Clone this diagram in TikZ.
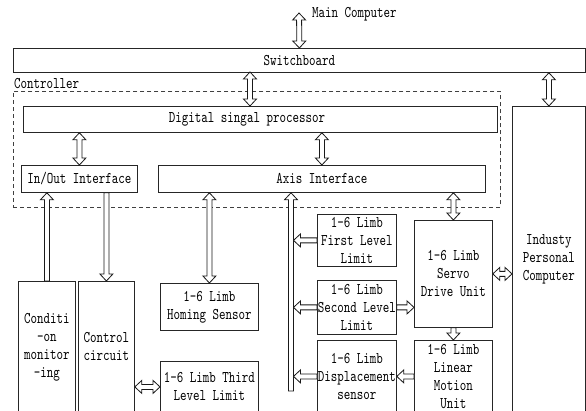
\documentclass[tikz,border=0pt]{standalone}
\usepackage{fontspec}
\newfontfamily\dfont{lmmono10-regular.otf}[FakeStretch=0.76]
\usetikzlibrary{calc}
\tikzset{
  every node/.style={font=\dfont\fontsize{16.3}{18}\selectfont},
  box/.style={draw=black!85, line width=0.8pt, inner sep=0pt, align=center, anchor=north west},
  dashedbox/.style={draw=black!75, line width=0.8pt, dash pattern=on 4pt off 3pt, inner sep=0pt, anchor=north west},
  lbl/.style={inner sep=0pt},
  blk/.style={draw=black!90, line width=0.8pt, fill=white},
  dblarrow/.style={blk, to path={let \p1=(\tikztostart), \p2=(\tikztotarget),
      \n1={veclen(\x2-\x1,\y2-\y1)}, \n2={(\x2-\x1)/\n1}, \n3={(\y2-\y1)/\n1} in
      ({\x1+7*\n2-2.5*\n3},{\y1+7*\n3+2.5*\n2})
      -- ({\x1+(\n1-7)*\n2-2.5*\n3},{\y1+(\n1-7)*\n3+2.5*\n2})
      -- ({\x1+(\n1-7)*\n2-6.5*\n3},{\y1+(\n1-7)*\n3+6.5*\n2})
      -- (\x2,\y2)
      -- ({\x1+(\n1-7)*\n2+6.5*\n3},{\y1+(\n1-7)*\n3-6.5*\n2})
      -- ({\x1+(\n1-7)*\n2+2.5*\n3},{\y1+(\n1-7)*\n3-2.5*\n2})
      -- ({\x1+7*\n2+2.5*\n3},{\y1+7*\n3-2.5*\n2})
      -- ({\x1+7*\n2+6.5*\n3},{\y1+7*\n3-6.5*\n2})
      -- (\x1,\y1)
      -- ({\x1+7*\n2-6.5*\n3},{\y1+7*\n3+6.5*\n2})
      -- cycle}},
  sglarrow/.style={blk, to path={let \p1=(\tikztostart), \p2=(\tikztotarget),
      \n1={veclen(\x2-\x1,\y2-\y1)}, \n2={(\x2-\x1)/\n1}, \n3={(\y2-\y1)/\n1} in
      ({\x1-2.5*\n3},{\y1+2.5*\n2})
      -- ({\x1+(\n1-7)*\n2-2.5*\n3},{\y1+(\n1-7)*\n3+2.5*\n2})
      -- ({\x1+(\n1-7)*\n2-6.5*\n3},{\y1+(\n1-7)*\n3+6.5*\n2})
      -- (\x2,\y2)
      -- ({\x1+(\n1-7)*\n2+6.5*\n3},{\y1+(\n1-7)*\n3-6.5*\n2})
      -- ({\x1+(\n1-7)*\n2+2.5*\n3},{\y1+(\n1-7)*\n3-2.5*\n2})
      -- ({\x1+2.5*\n3},{\y1-2.5*\n2})
      -- cycle}},
}
\begin{document}
\begin{tikzpicture}[x=1pt,y=-1pt]
\useasboundingbox (0,0) rectangle (586,411);
\clip (0,0) rectangle (586,411);
% boxes
\node[box, minimum width=572pt, minimum height=24pt] (sw) at (13,48) {Switchboard};
\node[dashedbox, minimum width=487pt, minimum height=116pt] (ctl) at (13,91) {};
\node[lbl, anchor=west] (ctll) at (14,84) {Controller};
\node[box, minimum width=474pt, minimum height=26pt] (dsp) at (23,106) {};
\node[lbl] (dspl) at (247,119) {Digital singal processor};
\node[box, minimum width=116pt, minimum height=27pt] (io) at (21,165) {In/Out Interface};
\node[box, minimum width=327pt, minimum height=27pt] (axis) at (158,165) {Axis Interface};
\node[box, minimum width=73pt, minimum height=306pt] (ipc) at (512,106) {Industy\\Personal\\Computer};
\node[box, minimum width=57pt, minimum height=131pt] (cond) at (18,281) {Conditi\\-on\\monitor\\-ing};
\node[box, minimum width=56pt, minimum height=131pt] (ctrlc) at (78,281) {Control\\circuit};
\node[box, minimum width=98pt, minimum height=47pt] (hom) at (160,283) {1-6 Limb\\Homing Sensor};
\node[box, minimum width=98pt, minimum height=51pt] (third) at (160,361) {1-6 Limb Third\\Level Limit};
\node[box, minimum width=79pt, minimum height=52pt] (f1) at (317,214) {1-6 Limb\\First Level\\Limit};
\node[box, minimum width=79pt, minimum height=54pt] (f2) at (317,280) {1-6 Limb\\Second Level\\Limit};
\node[box, minimum width=79pt, minimum height=72pt] (disp) at (317,340) {1-6 Limb\\Displacement\\sensor};
\node[box, minimum width=78pt, minimum height=107pt] (servo) at (414,220) {1-6 Limb\\Servo\\Drive Unit};
\node[box, minimum width=78pt, minimum height=72pt] (lin) at (414,340) {1-6 Limb\\Linear\\Motion\\Unit};
\node[lbl, anchor=west] (mc) at (312,14) {Main Computer};
% coordinates
\coordinate (mcpt) at (299,13);
\coordinate (swdsp) at (250,72);
\coordinate (barB) at (291,391);
\coordinate (barR) at (293.5,391);
% connectors
\draw[dblarrow] (sw.north) to (mcpt);
\draw[dblarrow] (swdsp) to (swdsp |- dsp.north);
\draw[dblarrow] (ipc.north |- sw.south) to (ipc.north);
\draw[dblarrow] (io.north |- dsp.south) to (io.north);
\draw[dblarrow] (axis.north |- dsp.south) to (axis.north);
\draw[sglarrow] (cond.north) to (cond.north |- io.south);
\draw[sglarrow] (ctrlc.north |- io.south) to (ctrlc.north);
\draw[dblarrow] (hom.north |- axis.south) to (hom.north);
\draw[dblarrow] (servo.north |- axis.south) to (servo.north);
\draw[sglarrow] (barB) to (barB |- axis.south);
\draw[sglarrow] (f1.west) to (f1.west -| barR);
\draw[sglarrow] (f2.west) to (f2.west -| barR);
\draw[sglarrow] (disp.west) to (disp.west -| barR);
\draw[sglarrow] (f2.east) to (f2.east -| servo.west);
\draw[dblarrow] (servo.east) to (servo.east -| ipc.west);
\draw[sglarrow] (servo.south) to (lin.north);
\draw[sglarrow] (lin.west) to (disp.east);
\draw[dblarrow] (third.west -| ctrlc.east) to (third.west);
\end{tikzpicture}
\end{document}
